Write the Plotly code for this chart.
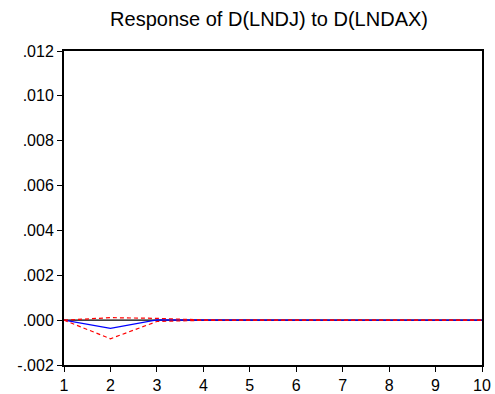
import plotly.graph_objects as go

# Impulse response of D(LNDJ) to a D(LNDAX) shock, with +/- 2 S.E. bands
periods = [1, 2, 3, 4, 5, 6, 7, 8, 9, 10]
response = [0.0, -0.00037, 0.00001, 0.0, 0.0, 0.0, 0.0, 0.0, 0.0, 0.0]
upper_band = [0.0, 0.00011, 0.00008, 0.00001, 0.0, 0.0, 0.0, 0.0, 0.0, 0.0]
lower_band = [0.0, -0.00083, -0.00006, -0.00001, 0.0, 0.0, 0.0, 0.0, 0.0, 0.0]

y_tick_vals = [-0.002, 0.0, 0.002, 0.004, 0.006, 0.008, 0.010, 0.012]
y_tick_text = ["-.002", ".000", ".002", ".004", ".006", ".008", ".010", ".012"]
x_tick_vals = periods
x_tick_text = [str(p) for p in periods]

FONT = "Liberation Sans, Arial, sans-serif"

fig = go.Figure()

# zero reference line
fig.add_trace(go.Scatter(x=[periods[0], periods[-1]], y=[0, 0], mode="lines",
                         line=dict(color="black", width=1.2), hoverinfo="skip"))
fig.add_trace(go.Scatter(x=periods, y=response, mode="lines",
                         line=dict(color="#0000ff", width=1.2)))
fig.add_trace(go.Scatter(x=periods, y=upper_band, mode="lines",
                         line=dict(color="#ff0000", width=1.2, dash="4px,3px")))
fig.add_trace(go.Scatter(x=periods, y=lower_band, mode="lines",
                         line=dict(color="#ff0000", width=1.2, dash="4px,3px")))

axis_common = dict(showgrid=False, zeroline=False, showline=True, linecolor="black",
                   linewidth=2, mirror=True, ticks="outside", ticklen=5, tickwidth=1,
                   tickcolor="black", automargin=False,
                   tickfont=dict(family=FONT, size=16, color="black"))

fig.update_layout(
    width=495, height=394,
    margin=dict(l=64, r=13, t=51, b=29),
    paper_bgcolor="white", plot_bgcolor="white",
    showlegend=False,
    title=dict(text="Response of D(LNDJ) to D(LNDAX)", x=0.5435, xanchor="center",
               y=0.952, yanchor="middle",
               font=dict(family=FONT, size=20, color="black")),
    xaxis=dict(range=[1, 10], tickvals=x_tick_vals, ticktext=x_tick_text, **axis_common),
    yaxis=dict(range=[-0.002, 0.012], tickvals=y_tick_vals, ticktext=y_tick_text, **axis_common),
)

fig.write_html("out.html")
